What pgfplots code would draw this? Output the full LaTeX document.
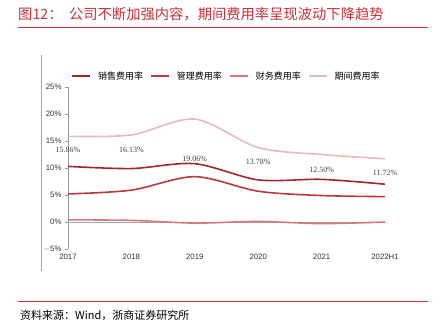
\documentclass[border=0pt]{standalone}
\usepackage{pgfplots}
\pgfplotsset{compat=1.18}
\usepackage{fontspec}
\setmainfont{Liberation Serif}
\newfontfamily\cjk{Noto Sans CJK SC}
\newfontfamily\arial{Liberation Sans}
\definecolor{titlered}{HTML}{C8323A}
\definecolor{cxs}{HTML}{A0282C}
\definecolor{cgl}{HTML}{B93A3E}
\definecolor{ccw}{HTML}{D8787B}
\definecolor{cqj}{HTML}{E8BBBB}
\begin{document}
\begin{tikzpicture}[x=1pt,y=1pt]
\path (0,0) rectangle (441,333);
\node[anchor=west,text=titlered,inner sep=0pt] at (18,319) {\cjk\fontsize{14.3}{15}\selectfont 图12：\ \ 公司不断加强内容，期间费用率呈现波动下降趋势};
\draw[titlered,line width=0.8pt] (18,306) -- (428,306);
\draw[titlered,line width=0.8pt] (18,32) -- (428,32);
\node[anchor=west,inner sep=0pt] at (20,18) {\cjk\fontsize{11}{12}\selectfont 资料来源：Wind，浙商证券研究所};
\draw[gray!70,line width=0.5pt] (41,62) -- (41,278);
\begin{axis}[
  at={(68pt,84pt)}, anchor=south west,
  scale only axis, width=317pt, height=162pt,
  xmin=0, xmax=5, ymin=-5, ymax=25,
  xtick={0,1,2,3,4,5},
  xticklabels={2017,2018,2019,2020,2021,2022H1},
  ytick={-5,0,5,10,15,20,25},
  yticklabels={$-$5\%,0\%,5\%,10\%,15\%,20\%,25\%},
  axis x line*=bottom,
  x axis line style={draw=none},
  xtick style={draw=none},
  axis y line*=left,
  y axis line style={gray!80,line width=0.5pt},
  ytick style={gray!80},
  tick align=outside,
  major tick length=3pt,
  ticklabel style={font=\arial\fontsize{7.8}{8}\selectfont, text=black!80},
  xticklabel style={yshift=1pt},
  clip=false,
  legend columns=4,
  legend style={at={(0.5,1.0)}, anchor=south, yshift=2pt, draw=none, fill=none,
    font=\cjk\fontsize{9}{10}\selectfont, column sep=5pt},
  legend image code/.code={\draw[#1,line width=1.8pt] (0pt,0pt) -- (18pt,0pt);},
]
\addplot[gray!70,line width=0.6pt,forget plot] coordinates {(0,0) (5,0)};
\addplot[cxs,line width=1.6pt,smooth] coordinates {(0,10.3) (1,9.9) (2,10.8) (3,7.8) (4,7.9) (5,7.0)};
\addlegendentry{销售费用率}
\addplot[cgl,line width=1.6pt,smooth] coordinates {(0,5.2) (1,5.9) (2,8.4) (3,5.7) (4,4.9) (5,4.7)};
\addlegendentry{管理费用率}
\addplot[ccw,line width=1.6pt,smooth] coordinates {(0,0.4) (1,0.3) (2,-0.2) (3,0.1) (4,-0.3) (5,0.0)};
\addlegendentry{财务费用率}
\addplot[cqj,line width=1.6pt,smooth] coordinates {(0,15.86) (1,16.13) (2,19.06) (3,13.78) (4,12.50) (5,11.72)};
\addlegendentry{期间费用率}
\addplot[draw=none,forget plot,nodes near coords,point meta=explicit symbolic,
  every node near coord/.style={anchor=center,font=\fontsize{8}{9}\selectfont,text=black!75}]
  coordinates {(0,13.3)[15.86\%] (1,13.3)[16.13\%] (2,11.7)[19.06\%] (3,11.1)[13.78\%] (4,9.6)[12.50\%] (5,9.1)[11.72\%]};
\end{axis}
\end{tikzpicture}
\end{document}
